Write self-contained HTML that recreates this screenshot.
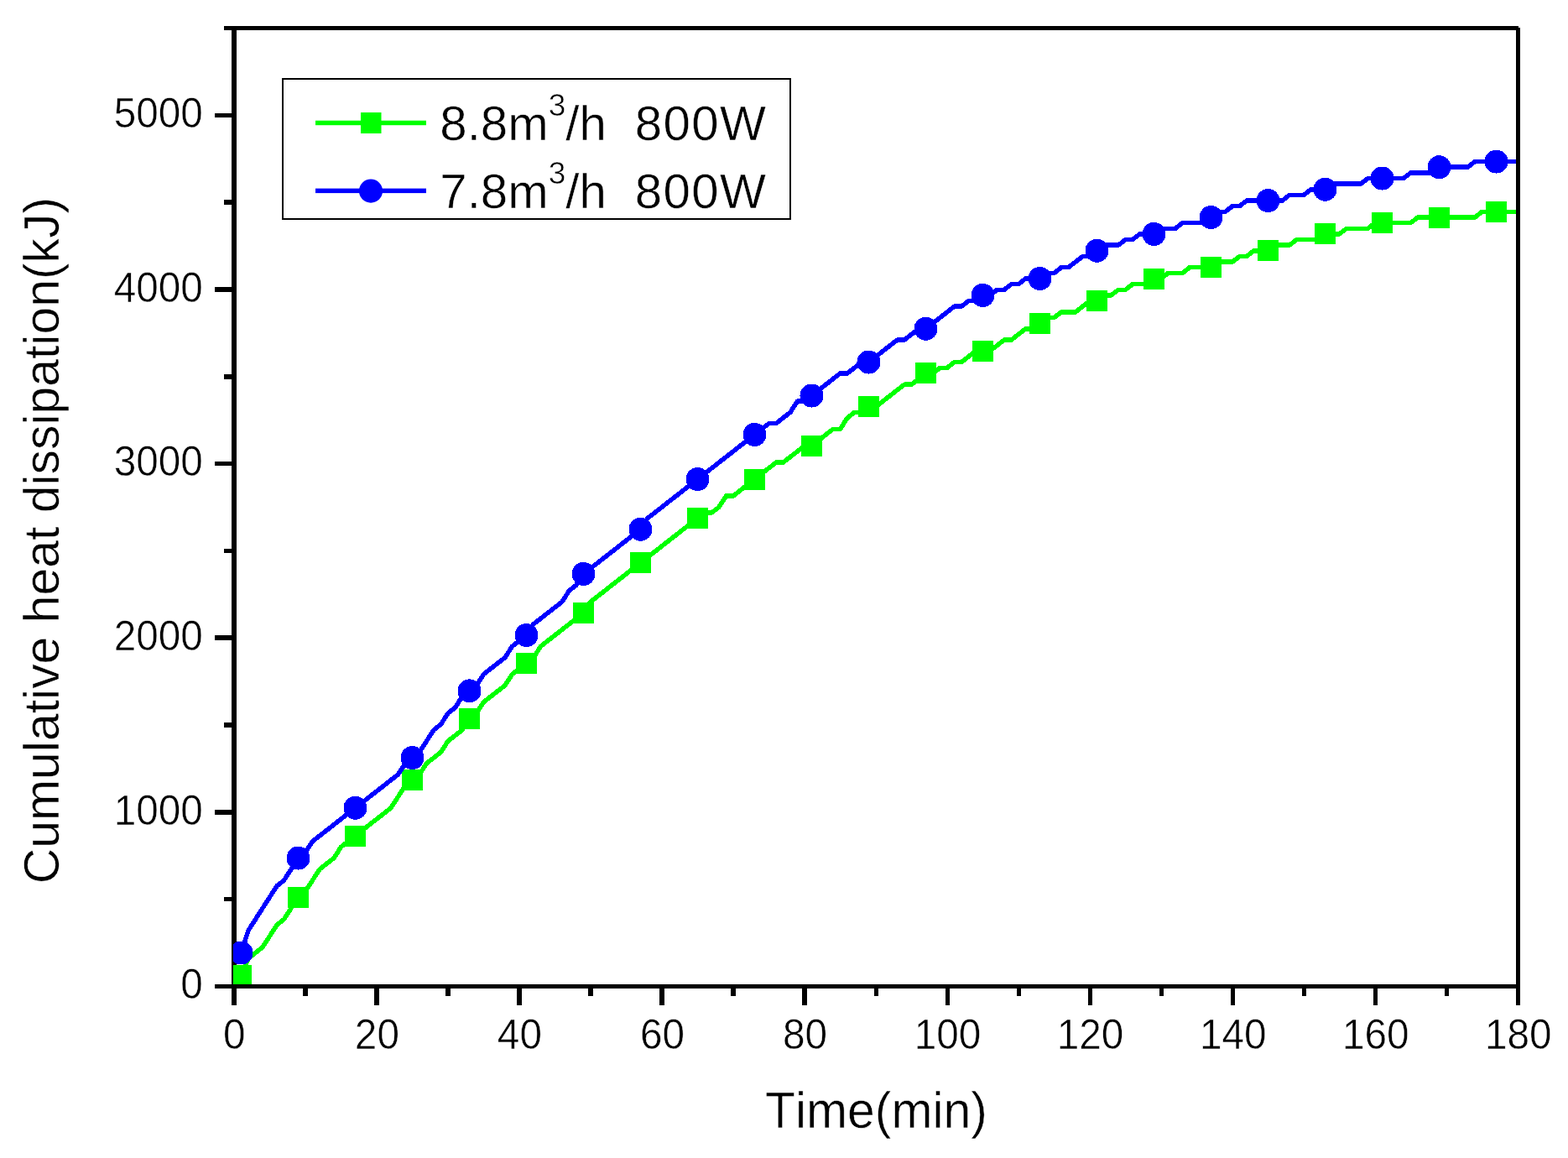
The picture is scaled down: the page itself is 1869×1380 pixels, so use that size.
<!DOCTYPE html>
<html lang="en"><head><meta charset="utf-8"><title>Cumulative heat dissipation</title>
<style>
html,body{margin:0;padding:0;background:#fff;}
body{width:1869px;height:1380px;overflow:hidden;}
svg{display:block;}
text{font-family:"Liberation Sans",sans-serif;fill:#000;font-kerning:none;stroke:#fff;stroke-width:0.5px;paint-order:fill stroke;}
.tick{font-size:47.7px;}
.title{font-size:58.9px;}
.ytitle{font-size:58.9px;}
.leg{font-size:58.2px;}
.sup{font-size:37px;}
</style></head><body>
<svg width="1869" height="1380" viewBox="0 0 1869 1380" role="img" aria-label="Cumulative heat dissipation versus time">
<rect width="1869" height="1380" fill="#fff"/>
<defs><clipPath id="plot"><rect x="278" y="36" width="1529" height="1137"/></clipPath></defs>
<g fill="#000" shape-rendering="crispEdges">
<rect x="276" y="31" width="6" height="1167"/>
<rect x="267" y="31" width="1543" height="5"/>
<rect x="1807" y="33" width="5" height="1165"/>
<rect x="267" y="1069" width="9" height="5"/>
<rect x="256" y="965" width="20" height="6"/>
<rect x="267" y="861" width="9" height="6"/>
<rect x="256" y="757" width="20" height="6"/>
<rect x="267" y="654" width="9" height="5"/>
<rect x="256" y="550" width="20" height="5"/>
<rect x="267" y="446" width="9" height="6"/>
<rect x="256" y="342" width="20" height="6"/>
<rect x="267" y="238" width="9" height="6"/>
<rect x="256" y="135" width="20" height="5"/>
<rect x="361" y="1178" width="6" height="9"/>
<rect x="446" y="1178" width="6" height="20"/>
<rect x="531" y="1178" width="6" height="9"/>
<rect x="616" y="1178" width="6" height="20"/>
<rect x="701" y="1178" width="6" height="9"/>
<rect x="786" y="1178" width="6" height="20"/>
<rect x="871" y="1178" width="6" height="9"/>
<rect x="956" y="1178" width="6" height="20"/>
<rect x="1042" y="1178" width="5" height="9"/>
<rect x="1127" y="1178" width="5" height="20"/>
<rect x="1212" y="1178" width="5" height="9"/>
<rect x="1297" y="1178" width="5" height="20"/>
<rect x="1382" y="1178" width="5" height="9"/>
<rect x="1467" y="1178" width="5" height="20"/>
<rect x="1552" y="1178" width="5" height="9"/>
<rect x="1637" y="1178" width="5" height="20"/>
<rect x="1722" y="1178" width="5" height="9"/>
</g>
<g clip-path="url(#plot)" shape-rendering="crispEdges">
<path d="M287.5,1162.0 L296.0,1142.1 L304.5,1135.5 L313.0,1128.8 L321.5,1115.5 L330.0,1102.3 L338.5,1095.6 L347.0,1082.3 L355.5,1069.1 L364.0,1062.4 L372.5,1049.1 L381.0,1035.9 L389.5,1029.2 L398.0,1022.6 L406.5,1009.3 L415.0,1002.7 L423.5,996.0 L432.0,989.4 L440.5,982.7 L449.0,976.1 L457.5,969.5 L466.0,962.8 L474.5,949.5 L483.0,936.3 L491.5,929.6 L500.0,923.0 L508.5,909.7 L517.0,903.1 L525.5,896.4 L534.0,883.1 L542.5,876.5 L551.0,869.9 L559.5,856.6 L568.0,849.9 L576.5,836.7 L585.0,830.0 L593.5,823.4 L602.0,816.7 L610.5,803.5 L619.0,796.8 L627.5,790.2 L636.0,783.5 L644.5,770.3 L653.0,763.6 L661.5,757.0 L670.0,750.3 L678.5,743.7 L687.0,737.1 L695.5,730.4 L704.0,717.1 L712.5,710.5 L721.0,703.9 L729.5,697.2 L738.0,690.6 L746.5,683.9 L755.0,677.3 L763.5,670.7 L772.0,664.0 L780.5,657.4 L789.0,650.7 L797.5,644.1 L806.0,637.5 L814.5,630.8 L823.0,624.2 L831.5,617.5 L840.0,610.9 L848.5,610.9 L857.0,604.3 L865.5,591.0 L874.0,591.0 L882.5,584.3 L891.0,577.7 L899.5,571.1 L908.0,564.4 L916.5,557.8 L925.0,551.1 L933.5,551.1 L942.0,544.5 L950.5,537.9 L959.0,531.2 L967.5,531.2 L976.0,524.6 L984.5,517.9 L993.0,511.3 L1001.5,511.3 L1010.0,498.0 L1018.5,491.4 L1027.0,491.4 L1035.5,484.7 L1044.0,484.7 L1052.5,478.1 L1061.0,471.5 L1069.5,464.8 L1078.0,458.2 L1086.5,458.2 L1095.0,451.5 L1103.5,444.9 L1112.0,444.9 L1120.5,438.3 L1129.0,438.3 L1137.5,431.6 L1146.0,431.6 L1154.5,425.0 L1163.0,418.3 L1180.0,418.3 L1188.5,411.7 L1197.0,405.1 L1205.5,405.1 L1214.0,398.4 L1222.5,391.8 L1231.0,391.8 L1239.5,385.1 L1248.0,378.5 L1256.5,378.5 L1265.0,371.9 L1282.0,371.9 L1290.5,365.2 L1299.0,358.6 L1307.5,358.6 L1316.0,351.9 L1324.5,351.9 L1333.0,345.3 L1341.5,345.3 L1350.0,338.7 L1367.0,338.7 L1375.5,332.0 L1384.0,332.0 L1392.5,325.4 L1409.5,325.4 L1418.0,318.7 L1443.5,318.7 L1452.0,312.1 L1469.0,312.1 L1477.5,305.5 L1486.0,305.5 L1494.5,298.8 L1511.5,298.8 L1520.0,292.2 L1537.0,292.2 L1545.5,285.5 L1571.0,285.5 L1579.5,278.9 L1596.5,278.9 L1605.0,272.3 L1630.5,272.3 L1639.0,265.6 L1681.5,265.6 L1690.0,259.0 L1758.0,259.0 L1766.5,252.3 L1809.0,252.3" fill="none" stroke="#00ff00" stroke-width="5.5" stroke-linejoin="round"/>
<g fill="#00ff00">
<rect x="275.0" y="1149.5" width="25" height="25"/>
<rect x="343.0" y="1056.6" width="25" height="25"/>
<rect x="411.0" y="983.5" width="25" height="25"/>
<rect x="479.0" y="917.1" width="25" height="25"/>
<rect x="547.0" y="844.1" width="25" height="25"/>
<rect x="615.0" y="777.7" width="25" height="25"/>
<rect x="683.0" y="717.9" width="25" height="25"/>
<rect x="751.0" y="658.2" width="25" height="25"/>
<rect x="819.0" y="605.0" width="25" height="25"/>
<rect x="887.0" y="558.6" width="25" height="25"/>
<rect x="955.0" y="518.7" width="25" height="25"/>
<rect x="1023.0" y="472.2" width="25" height="25"/>
<rect x="1091.0" y="432.4" width="25" height="25"/>
<rect x="1159.0" y="405.8" width="25" height="25"/>
<rect x="1227.0" y="372.6" width="25" height="25"/>
<rect x="1295.0" y="346.1" width="25" height="25"/>
<rect x="1363.0" y="319.5" width="25" height="25"/>
<rect x="1431.0" y="306.2" width="25" height="25"/>
<rect x="1499.0" y="286.3" width="25" height="25"/>
<rect x="1567.0" y="266.4" width="25" height="25"/>
<rect x="1635.0" y="253.1" width="25" height="25"/>
<rect x="1703.0" y="246.5" width="25" height="25"/>
<rect x="1771.0" y="239.8" width="25" height="25"/>
</g>
<path d="M287.5,1135.5 L296.0,1108.9 L304.5,1095.6 L313.0,1082.3 L321.5,1069.1 L330.0,1055.8 L338.5,1049.1 L347.0,1035.9 L355.5,1022.6 L364.0,1015.9 L372.5,1002.7 L381.0,996.0 L389.5,989.4 L398.0,982.7 L406.5,976.1 L415.0,969.5 L423.5,962.8 L432.0,956.2 L440.5,949.5 L449.0,942.9 L457.5,936.3 L466.0,929.6 L474.5,923.0 L483.0,909.7 L491.5,903.1 L500.0,896.4 L508.5,883.1 L517.0,869.9 L525.5,863.2 L534.0,849.9 L542.5,843.3 L551.0,830.0 L559.5,823.4 L568.0,816.7 L576.5,803.5 L585.0,796.8 L593.5,790.2 L602.0,783.5 L610.5,770.3 L619.0,763.6 L627.5,757.0 L636.0,743.7 L644.5,737.1 L653.0,730.4 L661.5,723.8 L670.0,717.1 L678.5,703.9 L687.0,697.2 L695.5,683.9 L704.0,677.3 L712.5,670.7 L721.0,664.0 L729.5,657.4 L738.0,650.7 L746.5,644.1 L755.0,637.5 L763.5,630.8 L772.0,617.5 L780.5,610.9 L789.0,604.3 L797.5,597.6 L806.0,591.0 L814.5,584.3 L823.0,577.7 L831.5,571.1 L840.0,564.4 L848.5,557.8 L857.0,551.1 L865.5,544.5 L874.0,537.9 L882.5,531.2 L891.0,524.6 L899.5,517.9 L908.0,511.3 L916.5,504.7 L925.0,504.7 L933.5,498.0 L942.0,491.4 L950.5,478.1 L959.0,478.1 L967.5,471.5 L976.0,464.8 L984.5,458.2 L993.0,451.5 L1001.5,444.9 L1010.0,444.9 L1018.5,438.3 L1027.0,431.6 L1035.5,431.6 L1044.0,425.0 L1052.5,418.3 L1061.0,411.7 L1069.5,405.1 L1078.0,405.1 L1086.5,398.4 L1095.0,391.8 L1103.5,391.8 L1112.0,385.1 L1120.5,378.5 L1129.0,371.9 L1137.5,365.2 L1146.0,365.2 L1154.5,358.6 L1163.0,358.6 L1171.5,351.9 L1180.0,351.9 L1188.5,345.3 L1197.0,345.3 L1205.5,338.7 L1214.0,338.7 L1222.5,332.0 L1239.5,332.0 L1248.0,325.4 L1256.5,325.4 L1265.0,318.7 L1273.5,318.7 L1282.0,312.1 L1290.5,305.5 L1299.0,305.5 L1307.5,298.8 L1316.0,292.2 L1333.0,292.2 L1341.5,285.5 L1350.0,285.5 L1358.5,278.9 L1375.5,278.9 L1384.0,272.3 L1401.0,272.3 L1409.5,265.6 L1435.0,265.6 L1443.5,259.0 L1452.0,252.3 L1460.5,252.3 L1469.0,245.7 L1477.5,245.7 L1486.0,239.1 L1528.5,239.1 L1537.0,232.4 L1554.0,232.4 L1562.5,225.8 L1579.5,225.8 L1588.0,219.1 L1622.0,219.1 L1630.5,212.5 L1673.0,212.5 L1681.5,205.9 L1707.0,205.9 L1715.5,199.2 L1749.5,199.2 L1758.0,192.6 L1809.0,192.6" fill="none" stroke="#0000ff" stroke-width="5.5" stroke-linejoin="round"/>
<g fill="#0000ff">
<circle cx="287.5" cy="1135.5" r="14"/>
<circle cx="355.5" cy="1022.6" r="14"/>
<circle cx="423.5" cy="962.8" r="14"/>
<circle cx="491.5" cy="903.1" r="14"/>
<circle cx="559.5" cy="823.4" r="14"/>
<circle cx="627.5" cy="757.0" r="14"/>
<circle cx="695.5" cy="683.9" r="14"/>
<circle cx="763.5" cy="630.8" r="14"/>
<circle cx="831.5" cy="571.1" r="14"/>
<circle cx="899.5" cy="517.9" r="14"/>
<circle cx="967.5" cy="471.5" r="14"/>
<circle cx="1035.5" cy="431.6" r="14"/>
<circle cx="1103.5" cy="391.8" r="14"/>
<circle cx="1171.5" cy="351.9" r="14"/>
<circle cx="1239.5" cy="332.0" r="14"/>
<circle cx="1307.5" cy="298.8" r="14"/>
<circle cx="1375.5" cy="278.9" r="14"/>
<circle cx="1443.5" cy="259.0" r="14"/>
<circle cx="1511.5" cy="239.1" r="14"/>
<circle cx="1579.5" cy="225.8" r="14"/>
<circle cx="1647.5" cy="212.5" r="14"/>
<circle cx="1715.5" cy="199.2" r="14"/>
<circle cx="1783.5" cy="192.6" r="14"/>
</g>
</g>
<rect x="256" y="1173" width="1556" height="5" fill="#000" shape-rendering="crispEdges"/>
<text class="tick" transform="translate(241.8,1190.1) scale(1,1.04)" text-anchor="end" xml:space="preserve">0</text>
<text class="tick" transform="translate(241.8,982.5) scale(1,1.04)" text-anchor="end" xml:space="preserve">1000</text>
<text class="tick" transform="translate(241.8,774.8) scale(1,1.04)" text-anchor="end" xml:space="preserve">2000</text>
<text class="tick" transform="translate(241.8,567.2) scale(1,1.04)" text-anchor="end" xml:space="preserve">3000</text>
<text class="tick" transform="translate(241.8,359.6) scale(1,1.04)" text-anchor="end" xml:space="preserve">4000</text>
<text class="tick" transform="translate(241.8,151.9) scale(1,1.04)" text-anchor="end" xml:space="preserve">5000</text>
<text class="tick" transform="translate(279.3,1249.8) scale(1,1.04)" text-anchor="middle" xml:space="preserve">0</text>
<text class="tick" transform="translate(449.4,1249.8) scale(1,1.04)" text-anchor="middle" xml:space="preserve">20</text>
<text class="tick" transform="translate(619.4,1249.8) scale(1,1.04)" text-anchor="middle" xml:space="preserve">40</text>
<text class="tick" transform="translate(789.5,1249.8) scale(1,1.04)" text-anchor="middle" xml:space="preserve">60</text>
<text class="tick" transform="translate(959.5,1249.8) scale(1,1.04)" text-anchor="middle" xml:space="preserve">80</text>
<text class="tick" transform="translate(1129.6,1249.8) scale(1,1.04)" text-anchor="middle" xml:space="preserve">100</text>
<text class="tick" transform="translate(1299.6,1249.8) scale(1,1.04)" text-anchor="middle" xml:space="preserve">120</text>
<text class="tick" transform="translate(1469.7,1249.8) scale(1,1.04)" text-anchor="middle" xml:space="preserve">140</text>
<text class="tick" transform="translate(1639.7,1249.8) scale(1,1.04)" text-anchor="middle" xml:space="preserve">160</text>
<text class="tick" transform="translate(1809.8,1249.8) scale(1,1.04)" text-anchor="middle" xml:space="preserve">180</text>
<text class="title" transform="translate(1044.4,1344.0) scale(1,1.035)" text-anchor="middle" xml:space="preserve">Time(min)</text>
<text class="ytitle" transform="translate(70.0,644.1) rotate(-90) scale(1,0.99)" text-anchor="middle" xml:space="preserve">Cumulative heat dissipation(kJ)</text>
<rect x="337" y="94" width="605" height="167" fill="#fff" stroke="#000" stroke-width="2" shape-rendering="crispEdges"/>
<rect x="376" y="143.7" width="132" height="5.5" fill="#00ff00"/>
<rect x="430" y="134" width="24.5" height="25" fill="#00ff00"/>
<rect x="376" y="224.6" width="132" height="5.5" fill="#0000ff"/>
<circle cx="442" cy="227.6" r="14.1" fill="#0000ff"/>
<text class="leg" transform="translate(524.3,166.9) scale(1,0.975)" text-anchor="start" xml:space="preserve">8.8m<tspan class="sup" dy="-29.6">3</tspan><tspan class="leg" dy="29.6">/h</tspan><tspan class="leg" letter-spacing="1.4" word-spacing="-0.55">  800W</tspan></text>
<text class="leg" transform="translate(524.3,248.0) scale(1,0.975)" text-anchor="start" xml:space="preserve">7.8m<tspan class="sup" dy="-29.6">3</tspan><tspan class="leg" dy="29.6">/h</tspan><tspan class="leg" letter-spacing="1.4" word-spacing="-0.55">  800W</tspan></text>
</svg></body></html>
